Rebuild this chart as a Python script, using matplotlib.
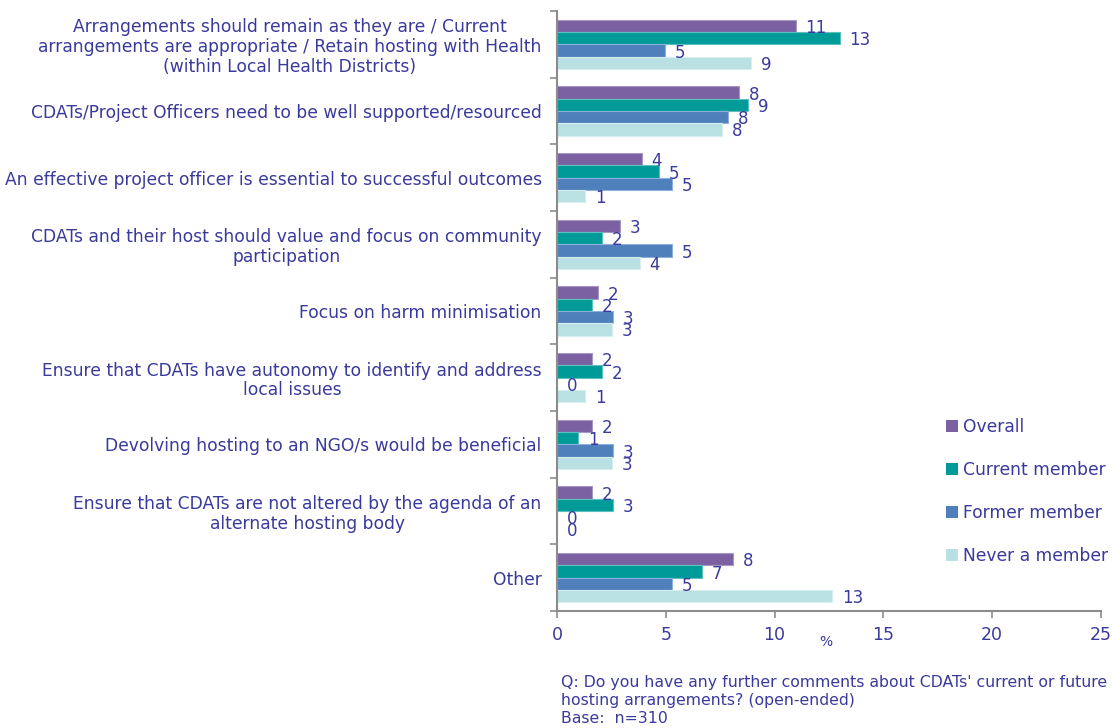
import matplotlib.pyplot as plt
import numpy as np

categories = [
    "Arrangements should remain as they are / Current\narrangements are appropriate / Retain hosting with Health\n(within Local Health Districts)",
    "CDATs/Project Officers need to be well supported/resourced",
    "An effective project officer is essential to successful outcomes",
    "CDATs and their host should value and focus on community\nparticipation",
    "Focus on harm minimisation",
    "Ensure that CDATs have autonomy to identify and address\nlocal issues",
    "Devolving hosting to an NGO/s would be beneficial",
    "Ensure that CDATs are not altered by the agenda of an\nalternate hosting body",
    "Other",
]
series_names = ["Overall", "Current member", "Former member", "Never a member"]
overall = [10.97, 8.37, 3.89, 2.88, 1.89, 1.61, 1.61, 1.61, 8.09]
current_member = [13.0, 8.80, 4.69, 2.09, 1.61, 2.09, 0.97, 2.57, 6.67]
former_member = [4.95, 7.88, 5.27, 5.27, 2.57, 0.0, 2.57, 0.0, 5.27]
never_member = [8.91, 7.57, 1.29, 3.80, 2.52, 1.29, 2.52, 0.0, 12.66]
x_ticks = [0, 5, 10, 15, 20, 25]

series = [overall, current_member, former_member, never_member]
colors = ["#7b61a1", "#009a98", "#4f80bc", "#b9e0e3"]
edge_colors = ["#a897c2", "#5cc0be", "#8fb0da", "#d8eff1"]
text_color = "#3a3a9c"
axis_color = "#8c8c8c"

plt.rcParams["font.family"] = "DejaVu Sans"

fig = plt.figure(figsize=(11.15, 7.28), dpi=100)
ax = fig.add_axes([557 / 1115, 1 - 611 / 728, 544 / 1115, 600 / 728])

y = np.arange(len(categories))
h = 0.184
for i, (name, vals, c, ec) in enumerate(zip(series_names, series, colors, edge_colors)):
    pos = y - 1.5 * h + i * h
    ax.barh(pos, vals, height=h, color=c, edgecolor=ec, linewidth=0.8, label=name)
    for p, v in zip(pos, vals):
        ax.annotate(f"{v:.0f}", (v, p), xytext=(7, -1.5), textcoords="offset points",
                    ha="left", va="center", fontsize=12, color=text_color)

ax.set_xlim(0, 25)
ax.set_ylim(len(categories) - 0.5, -0.5)
ax.set_xticks(x_ticks)
ax.set_xticklabels([str(t) for t in x_ticks])
ax.set_yticks(y)
ax.set_yticklabels(categories, ha="right", multialignment="center", linespacing=1.13)
ax.set_yticks(np.arange(len(categories) + 1) - 0.5, minor=True)

for side in ["top", "right"]:
    ax.spines[side].set_visible(False)
for side in ["left", "bottom"]:
    ax.spines[side].set_color(axis_color)
    ax.spines[side].set_linewidth(1.5)

ax.tick_params(axis="y", which="major", length=0, pad=11, labelsize=12.3, labelcolor=text_color)
ax.tick_params(axis="y", which="minor", length=5, color=axis_color, width=1.2)
ax.tick_params(axis="x", length=5, color=axis_color, width=1.2, pad=6,
               labelsize=12.5, labelcolor=text_color)

fig.text(826 / 1115, 1 - 642 / 728, "%", ha="center", va="center", fontsize=10, color=text_color)

leg = fig.legend(loc="upper left", bbox_to_anchor=(931 / 1115, 1 - 403 / 728), frameon=False,
                 fontsize=12.3, labelcolor=text_color, handlelength=0.7, handleheight=0.7,
                 handletextpad=0.3, labelspacing=1.45)
for patch in leg.get_patches():
    patch.set_edgecolor("none")

fig.text(561 / 1115, 1 - 675 / 728,
         "Q: Do you have any further comments about CDATs' current or future\n"
         "hosting arrangements? (open-ended)\nBase:  n=310",
         ha="left", va="top", fontsize=11.3, color=text_color, linespacing=1.25)

fig.savefig("out.png", dpi=100)
